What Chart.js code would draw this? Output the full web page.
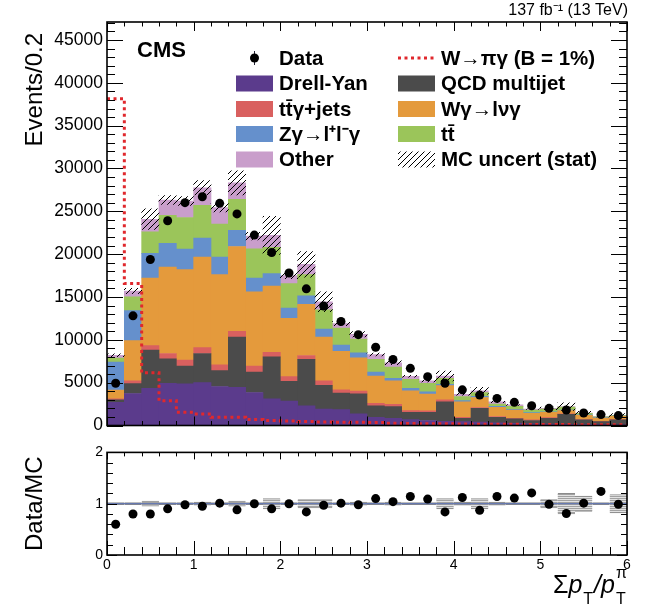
<!DOCTYPE html>
<html lang="en">
<head>
<meta charset="UTF-8">
<title>Sum pT / pT pi</title>
<script src="https://cdn.jsdelivr.net/npm/chart.js@4"></script>
<style>
  body { margin: 0; background: #fff; }
  .wrap { position: relative; width: 649px; height: 606px; }
  #main { position: absolute; left: 0; top: 0; }
  #ratio { position: absolute; left: 0; top: 440px; }
</style>
</head>
<body>
<div class="wrap">
  <canvas id="main" width="649" height="440"></canvas>
  <canvas id="ratio" width="649" height="166"></canvas>
</div>
<script>
// bins of 0.2 in sum pT / pT(pi)
const binCenters = [0.1, 0.3, 0.5, 0.7, 0.9, 1.1, 1.3, 1.5, 1.7, 1.9, 2.1, 2.3, 2.5, 2.7, 2.9,
                    3.1, 3.3, 3.5, 3.7, 3.9, 4.1, 4.3, 4.5, 4.7, 4.9, 5.1, 5.3, 5.5, 5.7, 5.9];
const binEdges = [0, 0.2, 0.4, 0.6, 0.8, 1.0, 1.2, 1.4, 1.6, 1.8, 2.0, 2.2, 2.4, 2.6, 2.8,
                  3.0, 3.2, 3.4, 3.6, 3.8, 4.0, 4.2, 4.4, 4.6, 4.8, 5.0, 5.2, 5.4, 5.6, 5.8, 6.0];
const yTicksMain = [0, 5000, 10000, 15000, 20000, 25000, 30000, 35000, 40000, 45000];
const yTicksRatio = [0, 1, 2];
const xTicks = [0, 1, 2, 3, 4, 5, 6];

// background stack, bottom to top
const drellYan = [2700, 3740, 4350, 4930, 4860, 5010, 4550, 4470, 3850, 3100, 2850, 2310, 1930, 1850, 1350,
                  960, 850, 690, 580, 500, 460, 400, 300, 250, 200, 180, 150, 120, 100, 90];
const qcd      = [300, 1150, 4440, 2850, 2080, 3390, 1850, 5860, 2390, 4910, 2310, 5400, 2770, 1930, 2350,
                  1350, 1350, 850, 960, 2270, 390, 1600, 660, 520, 380, 670, 1150, 530, 360, 560];
const ttgJets  = [100, 310, 540, 620, 690, 690, 690, 650, 700, 540, 540, 460, 500, 380, 310,
                  270, 260, 190, 160, 230, 100, 100, 90, 80, 70, 70, 50, 50, 40, 40];
const wgamma   = [1030, 4700, 7890, 10100, 10560, 10560, 10520, 9910, 8670, 7710, 6820, 5970, 5130, 4510, 3890,
                  3200, 2740, 2320, 1960, 1650, 1820, 1170, 1070, 960, 770, 620, 400, 500, 380, 390];
const zgamma   = [3270, 3500, 2880, 2770, 2390, 2240, 2040, 1880, 1610, 1470, 1200, 1000, 920, 730, 570,
                  460, 310, 300, 270, 150, 130, 130, 130, 90, 80, 60, 50, 50, 40, 20];
const ttbar    = [460, 1630, 2520, 3270, 3700, 3810, 3850, 3630, 3390, 3080, 2850, 2470, 2240, 1960, 1620,
                  1470, 1310, 1050, 1000, 710, 490, 450, 250, 330, 310, 330, 350, 170, 80, 60];
const other    = [340, 670, 1460, 1780, 1920, 2050, 1930, 1920, 1490, 1390, 930, 1200, 960, 540, 560,
                  580, 500, 350, 270, 270, 260, 200, 250, 170, 110, 70, 50, 30, 30, 20];
// relative MC stat uncertainty (half width)
const mcRelErr = [0.02, 0.02, 0.05, 0.02, 0.02, 0.03, 0.02, 0.05, 0.02, 0.10, 0.02, 0.08, 0.08, 0.02, 0.03,
                  0.02, 0.03, 0.02, 0.02, 0.10, 0.03, 0.10, 0.03, 0.02, 0.02, 0.08, 0.20, 0.15, 0.02, 0.18];

const dataCounts = [4930, 12800, 19380, 23900, 26010, 26700, 25930, 24700, 22230, 20190, 17800, 15950, 13950, 12140, 10600,
                    9130, 7710, 6670, 5700, 4930, 4160, 3550, 3160, 2700, 2310, 2000, 1810, 1460, 1270, 1160];
const signal = [38150, 16570, 6160, 2890, 1540, 1350, 960, 960, 690, 580, 520, 460, 420, 390, 380,
                350, 260, 220, 200, 190, 170, 160, 150, 140, 130, 120, 110, 100, 90, 80];
const ratio = [0.60, 0.80, 0.80, 0.90, 0.98, 0.95, 1.01, 0.88, 1.00, 0.90, 1.00, 0.84, 0.97, 1.01, 0.98,
               1.10, 1.04, 1.14, 1.09, 0.84, 1.12, 0.87, 1.14, 1.11, 1.21, 0.99, 0.81, 1.01, 1.24, 0.99];

const FONT = '"Liberation Sans", Arial, Helvetica, sans-serif';

function hatchPattern() {
  const c = document.createElement('canvas');
  c.width = 6; c.height = 6;
  const g = c.getContext('2d');
  g.strokeStyle = '#000';
  g.lineWidth = 1;
  g.beginPath();
  g.moveTo(0, 6); g.lineTo(6, 0);
  g.moveTo(-1, 1); g.lineTo(1, -1);
  g.moveTo(5, 7); g.lineTo(7, 5);
  g.stroke();
  return g.createPattern(c, 'repeat');
}

// grey horizontal-line fill for the ratio band
function stripePattern() {
  const c = document.createElement('canvas');
  c.width = 2; c.height = 2;
  const g = c.getContext('2d');
  g.fillStyle = '#e2e2e2';
  g.fillRect(0, 0, 2, 2);
  g.fillStyle = '#a2a2a2';
  g.fillRect(0, 0, 2, 1);
  return g.createPattern(c, 'repeat');
}

// ROOT-like frame with inward ticks on all four sides
const rootFrame = {
  id: 'rootFrame',
  afterDatasetsDraw(chart, args, o) {
    const {ctx, chartArea: a, scales: {x, y}} = chart;
    ctx.save();
    ctx.strokeStyle = '#000';
    ctx.lineWidth = 1;
    ctx.beginPath();
    let n = Math.round((x.max - x.min) / o.xMinor);
    for (let i = 0; i <= n; i++) {
      const v = x.min + i * o.xMinor;
      const major = Math.abs(v / o.xMajor - Math.round(v / o.xMajor)) < 1e-6;
      const len = major ? o.xLen[0] : o.xLen[1];
      const px = Math.round(x.getPixelForValue(v)) + 0.5;
      ctx.moveTo(px, a.bottom); ctx.lineTo(px, a.bottom - len);
      ctx.moveTo(px, a.top); ctx.lineTo(px, a.top + len * o.topScale);
    }
    n = Math.round((y.max - y.min) / o.yMinor);
    for (let i = 0; i <= n; i++) {
      const v = y.min + i * o.yMinor;
      const major = Math.abs(v / o.yMajor - Math.round(v / o.yMajor)) < 1e-6;
      const len = major ? o.yLen[0] : o.yLen[1];
      const py = Math.round(y.getPixelForValue(v)) + 0.5;
      ctx.moveTo(a.left, py); ctx.lineTo(a.left + len, py);
      ctx.moveTo(a.right, py); ctx.lineTo(a.right - len, py);
    }
    ctx.stroke();
    ctx.lineWidth = 1.6;
    ctx.strokeRect(a.left, a.top, a.width, a.height);
    ctx.restore();
  }
};

// two-column legend, CMS / luminosity labels and the y title
const rootLegend = {
  id: 'rootLegend',
  afterDatasetsDraw(chart, args, o) {
    const ctx = chart.ctx;
    const byLabel = {};
    chart.data.datasets.forEach(d => { byLabel[d.label] = d; });
    ctx.save();
    ctx.textBaseline = 'middle';
    ctx.textAlign = 'left';
    o.columns.forEach((col, ci) => {
      const bx = o.boxX[ci];
      col.forEach((label, ri) => {
        const d = byLabel[label];
        const cy = o.rowY[ri];
        if (d.legendKind === 'marker') {
          ctx.strokeStyle = '#223';
          ctx.lineWidth = 1;
          ctx.beginPath();
          ctx.moveTo(bx + 18.5, cy - 7); ctx.lineTo(bx + 18.5, cy + 7);
          ctx.stroke();
          ctx.fillStyle = '#000';
          ctx.beginPath();
          ctx.arc(bx + 18.5, cy, 4.5, 0, Math.PI * 2);
          ctx.fill();
        } else if (d.legendKind === 'line') {
          ctx.strokeStyle = d.borderColor;
          ctx.lineWidth = d.borderWidth;
          ctx.setLineDash(d.borderDash);
          ctx.beginPath();
          ctx.moveTo(bx, cy); ctx.lineTo(bx + 37, cy);
          ctx.stroke();
          ctx.setLineDash([]);
        } else {
          ctx.fillStyle = d.backgroundColor;
          ctx.fillRect(bx, cy - 8, 37, 16);
        }
        ctx.fillStyle = '#000';
        ctx.font = o.font;
        ctx.fillText(label, bx + o.textGap, cy + 1);
      });
    });
    ctx.font = 'bold 22px ' + FONT;
    ctx.fillText('CMS', 137, 51);
    ctx.font = '16px ' + FONT;
    ctx.textAlign = 'right';
    ctx.fillText('137 fb\u207B\u00B9 (13 TeV)', 628, 11);
    // y-axis title, right-aligned to the top like ROOT
    ctx.translate(35, 33);
    ctx.rotate(-Math.PI / 2);
    ctx.font = '24px ' + FONT;
    ctx.textAlign = 'right';
    ctx.fillText('Events/0.2', 0, 0);
    ctx.restore();
  }
};

// x-axis title under the ratio panel
const xTitle = {
  id: 'xTitle',
  afterDraw(chart) {
    const ctx = chart.ctx;
    const base = 153;
    const big = '25px ' + FONT, ital = 'italic 25px ' + FONT, small = '16px ' + FONT;
    const parts = [
      {t: '\u03A3', f: big, dy: 0},
      {t: 'p', f: ital, dy: 0},
      {t: 'T', f: small, dy: 11},
      {t: '/', f: ital, dy: 0},
      {t: 'p', f: ital, dy: 0}
    ];
    ctx.save();
    ctx.fillStyle = '#000';
    ctx.textBaseline = 'alphabetic';
    ctx.textAlign = 'left';
    let w = 0;
    parts.forEach(p => { ctx.font = p.f; p.w = ctx.measureText(p.t).width + (p.dy ? 2 : 0); w += p.w; });
    ctx.font = small;
    const stackW = Math.max(ctx.measureText('T').width, ctx.measureText('\u03C0').width);
    let x = 627 - w - stackW - 1;
    parts.forEach(p => { ctx.font = p.f; ctx.fillText(p.t, x + (p.dy ? 1 : 0), base + p.dy); x += p.w; });
    ctx.font = small;
    ctx.fillText('\u03C0', x + 1, base - 15);
    ctx.fillText('T', x + 1, base + 11);
    ctx.restore();
  }
};

const colors = {
  dy: '#5b3b8c', qcd: '#4b4b4b', ttg: '#d9605f', wg: '#e49a3c',
  zg: '#6590cc', tt: '#9bc55a', other: '#c99ecb', sig: '#e0282d'
};

function stackSet(label, values, color) {
  return {
    type: 'bar', label, stack: 'bkg', order: 3,
    data: values.map((v, i) => ({x: binCenters[i], y: v})),
    backgroundColor: color, borderWidth: 0,
    barPercentage: 1, categoryPercentage: 1
  };
}

const components = [drellYan, qcd, ttgJets, wgamma, zgamma, ttbar, other];
const totals = binCenters.map((c, i) => components.reduce((s, arr) => s + arr[i], 0));

const hatch = hatchPattern();

new Chart(document.getElementById('main'), {
  type: 'bar',
  data: {
    datasets: [
      {
        type: 'scatter', label: 'Data', legendKind: 'marker', stack: 'data', order: 0,
        data: dataCounts.map((v, i) => ({x: binCenters[i], y: v})),
        pointRadius: 4.5, pointBackgroundColor: '#000', pointBorderWidth: 0
      },
      {
        type: 'line', label: 'W\u2192\u03C0\u03B3 (B = 1%)', legendKind: 'line', stack: 'sig', order: 1,
        data: binEdges.map((e, i) => ({x: e, y: signal[Math.min(i, signal.length - 1)]})),
        stepped: true, borderColor: colors.sig, borderWidth: 3, borderDash: [3, 3.5],
        pointRadius: 0, fill: false
      },
      {
        type: 'bar', label: 'MC uncert (stat)', stack: 'unc', grouped: false, order: 2,
        data: totals.map((t, i) => ({x: binCenters[i], y: [t * (1 - mcRelErr[i]), t * (1 + mcRelErr[i])]})),
        backgroundColor: hatch, borderWidth: 0,
        barPercentage: 1, categoryPercentage: 1
      },
      stackSet('Drell-Yan', drellYan, colors.dy),
      stackSet('QCD multijet', qcd, colors.qcd),
      stackSet('tt\u0304\u03B3+jets', ttgJets, colors.ttg),
      stackSet('W\u03B3\u2192l\u03BD\u03B3', wgamma, colors.wg),
      stackSet('Z\u03B3\u2192l\u207Al\u207B\u03B3', zgamma, colors.zg),
      stackSet('tt\u0304', ttbar, colors.tt),
      stackSet('Other', other, colors.other)
    ]
  },
  options: {
    responsive: false,
    animation: false,
    layout: {padding: {left: 0, right: 22, top: 22, bottom: 10}},
    plugins: {
      legend: {display: false},
      tooltip: {enabled: false},
      rootFrame: {xMajor: 1, xMinor: 0.2, yMajor: 5000, yMinor: 1000, xLen: [9, 4.5], yLen: [16, 8], topScale: 1},
      rootLegend: {
        font: 'bold 20.5px ' + FONT,
        boxX: [236, 398], textGap: 43, rowY: [58, 83.5, 109, 134, 159.5],
        columns: [
          ['Data', 'Drell-Yan', 'tt\u0304\u03B3+jets', 'Z\u03B3\u2192l\u207Al\u207B\u03B3', 'Other'],
          ['W\u2192\u03C0\u03B3 (B = 1%)', 'QCD multijet', 'W\u03B3\u2192l\u03BD\u03B3', 'tt\u0304', 'MC uncert (stat)']
        ]
      }
    },
    scales: {
      x: {type: 'linear', min: 0, max: 6, offset: false, stacked: true, display: false},
      y: {
        type: 'linear', min: 0, max: 47100, stacked: true,
        grid: {display: false, drawTicks: false}, border: {display: false},
        ticks: {padding: 4, color: '#000', font: {family: FONT, size: 17.5}, callback: v => v},
        afterBuildTicks(scale) { scale.ticks = yTicksMain.map(v => ({value: v})); },
        afterFit(scale) { scale.width = 107; }
      }
    }
  },
  plugins: [rootFrame, rootLegend]
});

new Chart(document.getElementById('ratio'), {
  type: 'bar',
  data: {
    datasets: [
      {
        type: 'scatter', label: 'Data/MC', stack: 'pts', order: 0,
        data: ratio.map((v, i) => ({x: binCenters[i], y: v})),
        pointRadius: 4.5, pointBackgroundColor: '#000', pointBorderWidth: 0
      },
      {
        type: 'line', label: 'unity', stack: 'one', order: 1,
        data: [{x: 0, y: 1}, {x: 6, y: 1}],
        borderColor: '#4b62a6', borderWidth: 1, pointRadius: 0
      },
      {
        type: 'bar', label: 'MC uncert', stack: 'unc', order: 2,
        data: mcRelErr.map((e, i) => ({x: binCenters[i], y: [1 - e, 1 + e]})),
        backgroundColor: stripePattern(), borderColor: '#8c8c8c',
        borderWidth: {top: 1, bottom: 1, left: 0, right: 0}, borderSkipped: false,
        barPercentage: 1, categoryPercentage: 1
      }
    ]
  },
  options: {
    responsive: false,
    animation: false,
    layout: {padding: {left: 0, right: 22, top: 10, bottom: 0}},
    plugins: {
      legend: {display: false},
      tooltip: {enabled: false},
      rootFrame: {xMajor: 1, xMinor: 0.2, yMajor: 1, yMinor: 0.2, xLen: [14, 8], yLen: [10, 6], topScale: 0.5}
    },
    scales: {
      x: {
        type: 'linear', min: 0, max: 6, offset: false, stacked: true,
        grid: {display: false, drawTicks: false}, border: {display: false},
        ticks: {padding: 2, color: '#000', font: {family: FONT, size: 14}, maxRotation: 0},
        afterBuildTicks(scale) { scale.ticks = xTicks.map(v => ({value: v})); },
        afterFit(scale) { scale.height = 51; }
      },
      y: {
        type: 'linear', min: 0, max: 2, stacked: true,
        grid: {display: false, drawTicks: false}, border: {display: false},
        ticks: {padding: 4, color: '#000', font: {family: FONT, size: 14}},
        afterBuildTicks(scale) { scale.ticks = yTicksRatio.map(v => ({value: v})); },
        title: {display: true, text: 'Data/MC', align: 'center', color: '#000',
                font: {family: FONT, size: 24}, padding: {top: 21, bottom: 0}},
        afterFit(scale) { scale.width = 107; }
      }
    }
  },
  plugins: [rootFrame, xTitle]
});
</script>
</body>
</html>
